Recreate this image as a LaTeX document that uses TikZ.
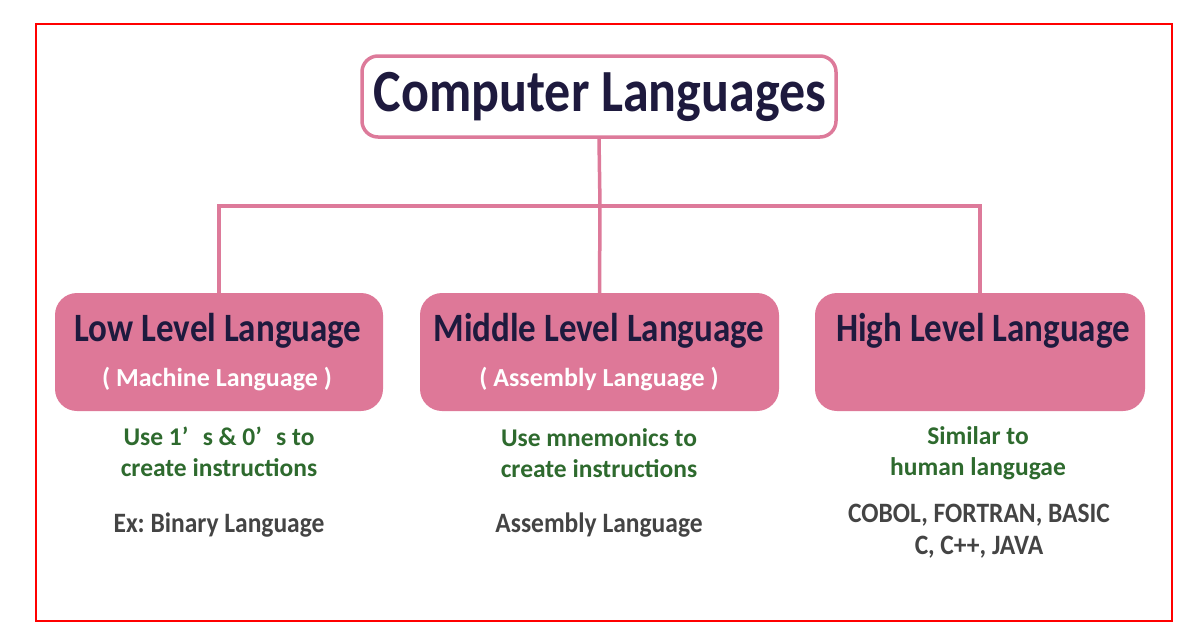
\documentclass[tikz,border=0pt]{standalone}
\usepackage{fontspec}
\setmainfont{Carlito}
\frenchspacing
\definecolor{pinkline}{HTML}{DD7A9A}
\definecolor{pinkfill}{HTML}{DE7898}
\definecolor{navy}{HTML}{1E1A3E}
\definecolor{leafgreen}{HTML}{2E6A2E}
\definecolor{darkgray}{HTML}{444444}
\newcommand{\tallify}[2]{\scalebox{1}[#1]{#2}}
\tikzset{
  conn/.style={draw=pinkline, line width=3.5pt},
  titlebox/.style={draw=pinkline, line width=3.5pt, fill=white, rounded corners=16pt, minimum width=474pt, minimum height=81pt, inner sep=0pt},
  levelbox/.style={fill=pinkfill, rounded corners=22pt, minimum height=118pt, inner sep=0pt},
  headtxt/.style={font=\bfseries\fontsize{35}{40}\selectfont, text=navy, inner sep=0pt},
  subtxt/.style={font=\bfseries\fontsize{26}{30}\selectfont, text=white, inner sep=0pt},
  greentxt/.style={font=\bfseries\fontsize{25.5}{31}\selectfont, text=leafgreen, align=center, inner sep=0pt},
  graytxt/.style={font=\bfseries\fontsize{25.5}{32}\selectfont, text=darkgray, align=center, inner sep=0pt},
}
\begin{document}
\begin{tikzpicture}[x=1pt, y=-1pt]
\useasboundingbox (0,0) rectangle (1196,627);
\draw[red, line width=1.6pt] (36,24) rectangle (1172,621);

\node[titlebox] (title) at (599,96.5) {};
\node[font=\bfseries\fontsize{52}{60}\selectfont, text=navy, inner sep=0pt] (titletxt) at (600,97) {\tallify{1.15}{Computer Languages}};

\node[levelbox, minimum width=328pt] (low) at (219,352) {};
\node[levelbox, minimum width=359pt] (mid) at (599.5,352) {};
\node[levelbox, minimum width=330pt] (high) at (980,352) {};

\coordinate (hub) at (600,206);
\draw[conn] (title.south) -- (hub);
\draw[conn] (low.north) |- (hub);
\draw[conn] (high.north) |- (hub);
\draw[conn] (mid.north) -- (hub);

\node[headtxt] (lowh) at (218,331) {\tallify{1.15}{Low Level Language}};
\node[subtxt] (lows) at (217,379) {( Machine Language )};
\node[greentxt] (lowg) at (219,452) {Use 1’\,\, s \& 0’\,\, s to\\create instructions};
\node[graytxt] (lowx) at (219,525) {\tallify{1.1}{Ex: Binary Language}};

\node[headtxt] (midh) at (599,331) {\tallify{1.15}{Middle Level Language}};
\node[subtxt] (mids) at (599,379) {( Assembly Language )};
\node[greentxt] (midg) at (599,453) {Use mnemonics to\\create instructions};
\node[graytxt] (midx) at (599,525) {\tallify{1.1}{Assembly Language}};

\node[headtxt] (highh) at (983,331) {\tallify{1.15}{High Level Language}};
\node[greentxt] (highg) at (978,453) {Similar to\\human langugae};
\node[graytxt] (highx) at (979,531) {\tallify{1.1}{COBOL, FORTRAN, BASIC}\\\tallify{1.1}{C, C++, JAVA}};
\end{tikzpicture}
\end{document}
